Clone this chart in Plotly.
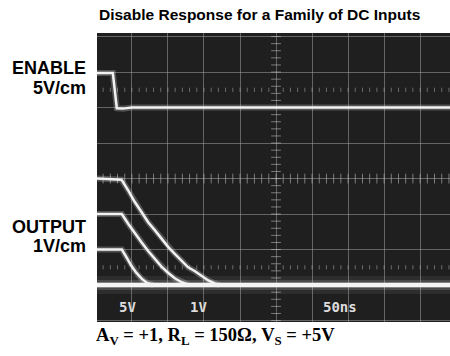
import numpy as np
import plotly.graph_objects as go

# scope readings, in graticule divisions (x: 50ns/div, y: screen divisions)
enable_x = [0.0, 0.47, 0.58, 0.75, 1.0, 9.9]
enable_y = [6.97, 6.97, 5.98, 5.97, 6.0, 6.0]

baseline_x = [0.0, 9.9]
baseline_y = [1.0, 1.0]

out3v_x = [0.0, 0.71, 0.90, 1.08, 1.27, 1.45, 1.64, 1.82, 2.01, 2.19, 2.38, 2.56, 2.75, 2.94, 3.12, 3.31, 3.44]
out3v_y = [4.0, 3.97, 3.66, 3.34, 3.05, 2.77, 2.54, 2.30, 2.07, 1.88, 1.69, 1.50, 1.39, 1.25, 1.13, 1.04, 1.0]

out2v_x = [0.0, 0.72, 0.90, 1.08, 1.27, 1.45, 1.64, 1.82, 2.01, 2.19, 2.38, 2.56]
out2v_y = [3.0, 3.0, 2.72, 2.45, 2.20, 1.96, 1.73, 1.52, 1.34, 1.19, 1.08, 1.01]

out1v_x = [0.0, 0.72, 0.85, 0.98, 1.12, 1.27, 1.42, 1.60]
out1v_y = [2.0, 2.0, 1.78, 1.55, 1.35, 1.18, 1.06, 1.0]

screen_labels = ["5V", "1V", "50ns"]
screen_label_x = [0.88, 2.86, 6.78]

traces = [
    (enable_x, enable_y),
    (out3v_x, out3v_y),
    (out2v_x, out2v_y),
    (out1v_x, out1v_y),
]

W, H = 450, 356
ML, MT, MB = 97, 33, 34
PW, PH = W - ML, H - MT - MB


def px_x(x):
    # page pixel -> paper fraction
    return (x - ML) / PW


def px_y(y):
    return 1 - (y - MT) / PH


fig = go.Figure()

# graticule minor ticks on the centre lines and the dotted 0%/100% rows
minor = np.arange(0, 10.01, 0.2)
minor_v = np.arange(0, 8.01, 0.2)
tick_col = "rgba(200,200,200,0.55)"
fig.add_trace(go.Scatter(x=[5] * len(minor_v), y=minor_v, mode="markers",
                         marker=dict(symbol="line-ew", size=7, line=dict(width=1, color=tick_col)),
                         hoverinfo="skip", showlegend=False))
fig.add_trace(go.Scatter(x=minor, y=[4] * len(minor), mode="markers",
                         marker=dict(symbol="line-ns", size=7, line=dict(width=1, color=tick_col)),
                         hoverinfo="skip", showlegend=False))
for yy in [1.5, 6.5]:
    fig.add_trace(go.Scatter(x=minor, y=[yy] * len(minor), mode="markers",
                             marker=dict(symbol="line-ns", size=3, line=dict(width=1, color="rgba(200,200,200,0.45)")),
                             hoverinfo="skip", showlegend=False))

# baseline glow (the 0V trace is the brightest)
for w, a in [(18, 0.07), (10, 0.15), (6, 0.35)]:
    fig.add_trace(go.Scatter(x=baseline_x, y=baseline_y, mode="lines",
                             line=dict(color=f"rgba(235,235,235,{a})", width=w),
                             hoverinfo="skip", showlegend=False))
fig.add_trace(go.Scatter(x=baseline_x, y=baseline_y, mode="lines",
                         line=dict(color="#f4f4f4", width=4), showlegend=False))

for tx, ty in traces:
    fig.add_trace(go.Scatter(x=tx, y=ty, mode="lines",
                             line=dict(color="rgba(235,235,235,0.25)", width=6),
                             hoverinfo="skip", showlegend=False))
    fig.add_trace(go.Scatter(x=tx, y=ty, mode="lines",
                             line=dict(color="#f2f2f2", width=2.5),
                             showlegend=False))

for label, lx in zip(screen_labels, screen_label_x):
    fig.add_annotation(x=lx, y=0.38, xref="x", yref="y", text=f"<b>{label}</b>", showarrow=False,
                       font=dict(family="DejaVu Sans Mono", size=14, color="#dcdcdc"))

axis_common = dict(showticklabels=False, ticks="", zeroline=False, showgrid=True,
                   gridcolor="rgba(170,170,170,0.5)", gridwidth=1, dtick=1, tick0=0,
                   showline=False, fixedrange=True)

fig.update_layout(
    width=W, height=H,
    margin=dict(l=ML, r=0, t=MT, b=MB),
    paper_bgcolor="white",
    plot_bgcolor="#1f1f1f",
    xaxis=dict(range=[0.03, 9.83], **axis_common),
    yaxis=dict(range=[-0.04, 8.1], **axis_common),
    font=dict(family="Liberation Sans"),
    hovermode=False,
)

fig.add_annotation(x=px_x(259), y=px_y(14), xref="paper", yref="paper",
                   xanchor="center", yanchor="middle",
                   text="<b>Disable Response for a Family of DC Inputs</b>",
                   showarrow=False, font=dict(size=15.5, color="black"))

side_labels = [("ENABLE", 68), ("5V/cm", 88), ("OUTPUT", 227), ("1V/cm", 246)]
for text, py in side_labels:
    fig.add_annotation(x=px_x(88), y=px_y(py), xref="paper", yref="paper", text=f"<b>{text}</b>",
                       showarrow=False, xanchor="right", yanchor="middle",
                       font=dict(size=18, color="black"))

fig.add_annotation(x=px_x(215), y=px_y(336), xref="paper", yref="paper",
                   xanchor="center", yanchor="middle",
                   text="<b>A<sub>V</sub> = +1, R<sub>L</sub> = 150Ω, V<sub>S</sub> = +5V</b>",
                   showarrow=False, font=dict(family="Liberation Serif", size=18.5, color="black"))

# drop the browser's default 8px body margin so the figure fills the window
fig.write_html("out.html", config=dict(displayModeBar=False),
               post_script="document.body.style.margin='0';")
